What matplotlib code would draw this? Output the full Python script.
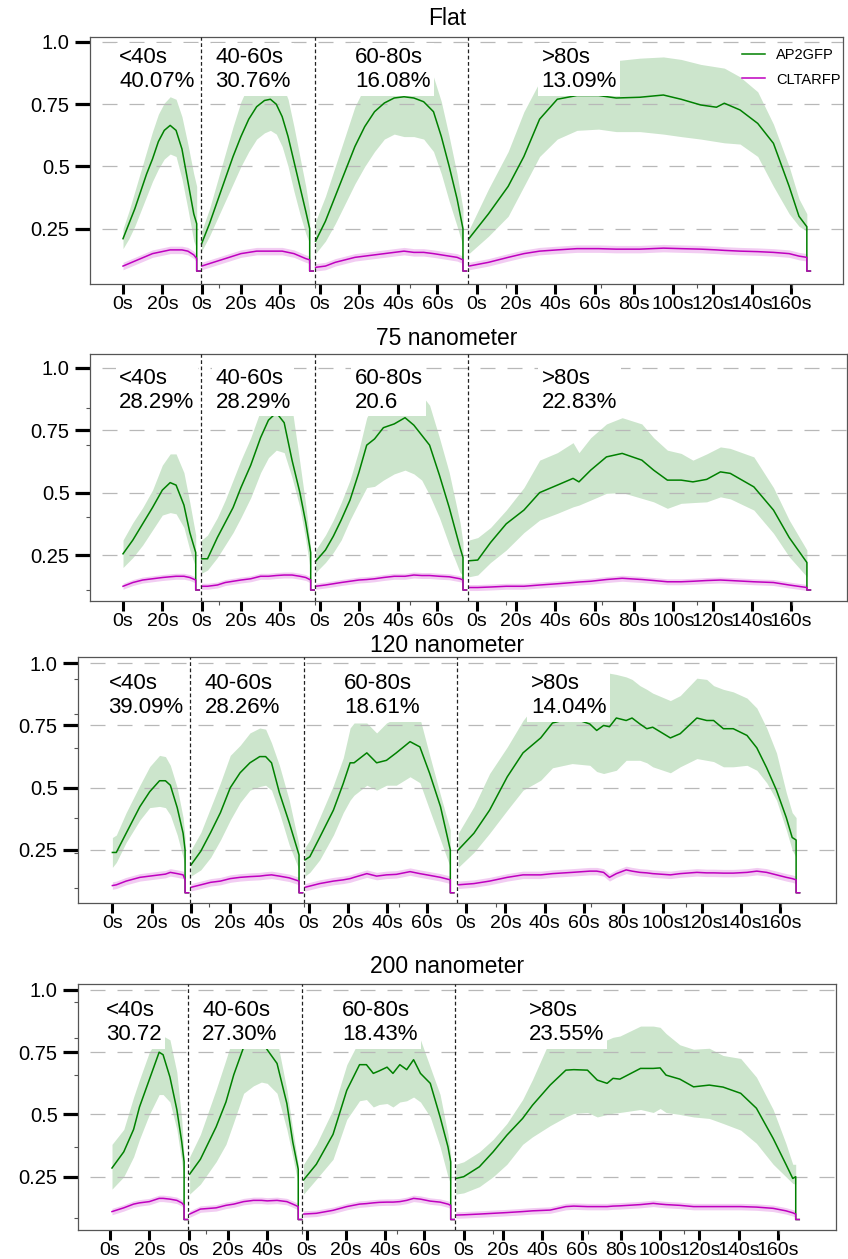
import numpy as np
import matplotlib
matplotlib.use('Agg')
import matplotlib.pyplot as plt
from matplotlib.ticker import FixedLocator

plt.rcParams['font.family'] = ['Liberation Sans', 'DejaVu Sans']

# shared time axis: four duration classes side by side
seg_start = [0, 40, 98, 176]
seg_split = [39.5, 97.7, 175.6]
tick_pos = [0, 20, 40, 60, 80, 100, 120, 140, 160,
            180, 200, 220, 240, 260, 280, 300, 320, 340]
tick_lab = ['0s', '20s', '0s', '20s', '40s', '0s', '20s', '40s', '60s',
            '0s', '20s', '40s', '60s', '80s', '100s', '120s', '140s', '160s']
ytick_pos = [0.25, 0.5, 0.75, 1.0]
ytick_lab = ['0.25', '0.5', '0.75', '1.0']
minor_x = [49, 97.5, 146, 195, 243.5, 292, 340.5]

# ---- Flat
flat_t = [[0, 3, 6, 9, 12, 15, 18, 21, 24, 27, 30, 33, 36, 37.5],
          [0, 4, 8, 12, 16, 20, 24, 28, 32, 35, 38, 41, 44, 47, 50, 53, 55],
          [0, 5, 10, 15, 20, 25, 30, 35, 40, 45, 50, 55, 60, 64, 68, 72, 75],
          [0, 10, 20, 28, 36, 45, 55, 66, 75, 87, 99, 108, 118, 126, 130, 138, 147, 155, 163, 168, 172]]
flat_ap2 = [[0.21, 0.27, 0.33, 0.40, 0.47, 0.53, 0.60, 0.645, 0.665, 0.645, 0.57, 0.44, 0.31, 0.27],
            [0.19, 0.27, 0.36, 0.45, 0.54, 0.62, 0.69, 0.74, 0.765, 0.77, 0.75, 0.70, 0.62, 0.52, 0.42, 0.32, 0.25],
            [0.20, 0.28, 0.38, 0.48, 0.58, 0.66, 0.72, 0.755, 0.775, 0.78, 0.775, 0.76, 0.72, 0.62, 0.50, 0.37, 0.25],
            [0.21, 0.31, 0.42, 0.54, 0.69, 0.77, 0.785, 0.785, 0.775, 0.778, 0.787, 0.77, 0.747, 0.738, 0.754, 0.727, 0.673, 0.593, 0.42, 0.30, 0.258]]
flat_hi = [[0.25, 0.32, 0.40, 0.48, 0.56, 0.64, 0.71, 0.755, 0.78, 0.77, 0.70, 0.59, 0.47, 0.42],
           [0.24, 0.33, 0.44, 0.55, 0.66, 0.76, 0.83, 0.87, 0.89, 0.89, 0.87, 0.83, 0.77, 0.66, 0.54, 0.42, 0.32],
           [0.28, 0.38, 0.50, 0.62, 0.74, 0.82, 0.86, 0.88, 0.89, 0.89, 0.89, 0.88, 0.86, 0.76, 0.62, 0.47, 0.33],
           [0.245, 0.41, 0.56, 0.72, 0.84, 0.90, 0.93, 0.93, 0.925, 0.935, 0.94, 0.93, 0.91, 0.90, 0.895, 0.86, 0.80, 0.67, 0.50, 0.37, 0.31]]
flat_lo = [[0.17, 0.21, 0.26, 0.32, 0.38, 0.44, 0.49, 0.53, 0.55, 0.54, 0.45, 0.33, 0.20, 0.17],
           [0.16, 0.22, 0.29, 0.36, 0.43, 0.50, 0.56, 0.61, 0.635, 0.645, 0.63, 0.58, 0.50, 0.40, 0.31, 0.23, 0.19],
           [0.15, 0.20, 0.27, 0.35, 0.43, 0.50, 0.56, 0.61, 0.63, 0.62, 0.62, 0.61, 0.56, 0.47, 0.36, 0.26, 0.18],
           [0.15, 0.22, 0.30, 0.42, 0.54, 0.61, 0.645, 0.65, 0.64, 0.64, 0.63, 0.62, 0.61, 0.60, 0.595, 0.59, 0.54, 0.42, 0.31, 0.26, 0.24]]
flat_clta = [[0.10, 0.11, 0.12, 0.13, 0.14, 0.15, 0.155, 0.16, 0.165, 0.165, 0.165, 0.16, 0.145, 0.13],
             [0.10, 0.11, 0.12, 0.13, 0.14, 0.15, 0.155, 0.16, 0.16, 0.16, 0.16, 0.16, 0.155, 0.15, 0.14, 0.13, 0.125],
             [0.095, 0.10, 0.115, 0.125, 0.135, 0.14, 0.145, 0.15, 0.155, 0.16, 0.155, 0.155, 0.15, 0.145, 0.14, 0.135, 0.125],
             [0.10, 0.115, 0.135, 0.15, 0.16, 0.165, 0.17, 0.17, 0.168, 0.168, 0.172, 0.17, 0.168, 0.165, 0.163, 0.16, 0.158, 0.155, 0.15, 0.14, 0.135]]

# ---- 75 nanometer
nm75_t = [[0, 5, 10, 15, 20, 24, 27, 31, 34, 37],
          [0, 3, 8, 12, 16, 20, 25, 30, 34, 38, 42, 46, 50, 53, 55.5],
          [0, 5, 9, 13, 17.5, 22, 26, 30, 34.5, 40, 45.5, 50, 54, 58, 63, 68, 73.5, 75],
          [0, 4.5, 11, 19, 28, 36, 45, 53, 56, 62, 70, 78, 88, 94, 101, 108, 114, 121, 128, 133, 145, 155, 163, 172]]
nm75_ap2 = [[0.255, 0.31, 0.375, 0.44, 0.51, 0.54, 0.53, 0.45, 0.34, 0.26],
            [0.235, 0.235, 0.32, 0.38, 0.44, 0.52, 0.61, 0.72, 0.79, 0.82, 0.78, 0.63, 0.50, 0.38, 0.26],
            [0.225, 0.27, 0.325, 0.39, 0.47, 0.58, 0.69, 0.715, 0.76, 0.775, 0.80, 0.77, 0.73, 0.69, 0.57, 0.44, 0.28, 0.24],
            [0.227, 0.23, 0.30, 0.375, 0.43, 0.50, 0.53, 0.557, 0.543, 0.59, 0.643, 0.657, 0.63, 0.59, 0.55, 0.55, 0.543, 0.553, 0.583, 0.577, 0.523, 0.43, 0.32, 0.22]]
nm75_hi = [[0.31, 0.38, 0.44, 0.51, 0.61, 0.655, 0.655, 0.58, 0.46, 0.33],
           [0.31, 0.33, 0.40, 0.47, 0.55, 0.63, 0.72, 0.83, 0.90, 0.93, 0.92, 0.84, 0.62, 0.45, 0.28],
           [0.27, 0.33, 0.39, 0.46, 0.55, 0.67, 0.80, 0.86, 0.90, 0.92, 0.93, 0.92, 0.89, 0.85, 0.72, 0.58, 0.38, 0.30],
           [0.31, 0.32, 0.36, 0.43, 0.52, 0.63, 0.66, 0.70, 0.66, 0.72, 0.775, 0.80, 0.775, 0.72, 0.67, 0.657, 0.63, 0.655, 0.683, 0.677, 0.643, 0.52, 0.39, 0.27]]
nm75_lo = [[0.20, 0.24, 0.29, 0.35, 0.41, 0.42, 0.415, 0.36, 0.27, 0.20],
           [0.177, 0.19, 0.24, 0.29, 0.34, 0.40, 0.48, 0.58, 0.64, 0.67, 0.66, 0.56, 0.44, 0.31, 0.18],
           [0.18, 0.22, 0.26, 0.31, 0.39, 0.46, 0.52, 0.525, 0.55, 0.575, 0.59, 0.575, 0.55, 0.49, 0.40, 0.29, 0.18, 0.17],
           [0.163, 0.17, 0.22, 0.27, 0.34, 0.39, 0.417, 0.443, 0.45, 0.47, 0.497, 0.50, 0.477, 0.463, 0.437, 0.457, 0.46, 0.463, 0.483, 0.475, 0.43, 0.337, 0.243, 0.163]]
nm75_clta = [[0.125, 0.14, 0.15, 0.155, 0.16, 0.163, 0.165, 0.165, 0.16, 0.15],
             [0.125, 0.125, 0.13, 0.14, 0.145, 0.15, 0.155, 0.165, 0.165, 0.168, 0.17, 0.17, 0.165, 0.16, 0.15],
             [0.125, 0.13, 0.135, 0.14, 0.145, 0.15, 0.152, 0.155, 0.16, 0.165, 0.165, 0.17, 0.168, 0.168, 0.165, 0.163, 0.155, 0.15],
             [0.12, 0.12, 0.122, 0.125, 0.125, 0.13, 0.135, 0.14, 0.142, 0.145, 0.152, 0.157, 0.152, 0.148, 0.143, 0.143, 0.145, 0.148, 0.15, 0.148, 0.143, 0.14, 0.13, 0.12]]

# ---- 120 nanometer
nm120_t = [[0, 2, 7, 14, 19, 24, 27, 29.5, 33, 36, 37],
           [0, 5, 10, 15, 20, 25, 30, 35, 38, 41, 45, 50, 55],
           [0, 2.5, 7.5, 14.5, 19.5, 23, 25, 31.5, 36.5, 41.5, 46.5, 53.5, 58.5, 63.5, 69, 74],
           [0, 8, 16, 25, 33, 42, 48, 58, 67, 70.5, 74, 77, 80.5, 85.5, 88.5, 92.5, 96, 99, 108, 113,
            121.5, 126.5, 130, 135, 140, 147, 152, 157, 162, 167, 170, 172]]
nm120_ap2 = [[0.24, 0.24, 0.317, 0.424, 0.484, 0.528, 0.528, 0.51, 0.42, 0.317, 0.25],
             [0.19, 0.245, 0.32, 0.40, 0.50, 0.56, 0.60, 0.625, 0.625, 0.60, 0.48, 0.36, 0.23],
             [0.21, 0.223, 0.30, 0.41, 0.517, 0.60, 0.60, 0.64, 0.60, 0.61, 0.64, 0.685, 0.664, 0.557, 0.424, 0.25],
             [0.25, 0.317, 0.41, 0.544, 0.64, 0.70, 0.76, 0.78, 0.756, 0.73, 0.75, 0.745, 0.78, 0.77, 0.78, 0.756,
              0.737, 0.743, 0.70, 0.717, 0.78, 0.77, 0.77, 0.737, 0.737, 0.71, 0.66, 0.58, 0.49, 0.38, 0.30, 0.29]]
nm120_hi = [[0.30, 0.31, 0.40, 0.51, 0.585, 0.63, 0.625, 0.59, 0.50, 0.38, 0.30],
            [0.25, 0.32, 0.42, 0.52, 0.63, 0.67, 0.72, 0.74, 0.735, 0.68, 0.59, 0.45, 0.27],
            [0.26, 0.29, 0.38, 0.51, 0.62, 0.74, 0.76, 0.76, 0.72, 0.76, 0.78, 0.80, 0.78, 0.63, 0.47, 0.33],
            [0.317, 0.424, 0.557, 0.664, 0.77, 0.86, 0.90, 0.93, 0.94, 0.94, 0.95, 0.96, 0.955, 0.945, 0.935, 0.91,
             0.895, 0.88, 0.85, 0.87, 0.94, 0.935, 0.91, 0.895, 0.885, 0.86, 0.82, 0.74, 0.64, 0.48, 0.40, 0.38]]
nm120_lo = [[0.18, 0.20, 0.28, 0.37, 0.42, 0.425, 0.42, 0.39, 0.31, 0.22, 0.18],
            [0.145, 0.17, 0.22, 0.29, 0.37, 0.44, 0.49, 0.505, 0.51, 0.49, 0.40, 0.27, 0.17],
            [0.145, 0.16, 0.21, 0.31, 0.40, 0.45, 0.47, 0.51, 0.49, 0.51, 0.51, 0.544, 0.52, 0.41, 0.29, 0.18],
            [0.18, 0.24, 0.317, 0.41, 0.49, 0.53, 0.58, 0.597, 0.59, 0.565, 0.557, 0.563, 0.57, 0.61, 0.61, 0.61,
             0.60, 0.584, 0.56, 0.584, 0.617, 0.61, 0.605, 0.584, 0.584, 0.59, 0.57, 0.52, 0.45, 0.33, 0.25, 0.22]]
nm120_clta = [[0.107, 0.11, 0.125, 0.14, 0.145, 0.15, 0.153, 0.16, 0.155, 0.15, 0.13],
              [0.10, 0.11, 0.12, 0.125, 0.135, 0.14, 0.143, 0.145, 0.148, 0.15, 0.145, 0.138, 0.125],
              [0.10, 0.105, 0.115, 0.125, 0.13, 0.135, 0.14, 0.155, 0.145, 0.15, 0.152, 0.163, 0.155, 0.148, 0.14, 0.13],
              [0.11, 0.115, 0.125, 0.14, 0.15, 0.15, 0.155, 0.16, 0.165, 0.165, 0.16, 0.14, 0.155, 0.17, 0.165, 0.16,
               0.158, 0.155, 0.15, 0.155, 0.16, 0.158, 0.158, 0.157, 0.157, 0.16, 0.165, 0.16, 0.15, 0.14, 0.135, 0.13]]

# ---- 200 nanometer
nm200_t = [[1, 7, 12, 15, 20, 25, 27, 30.5, 34, 36.5, 37.7],
           [0.5, 6, 14, 19, 23, 28, 33, 37, 40, 45, 50, 53, 55.8],
           [0.5, 7, 15.5, 22.5, 29, 32.5, 36, 39, 43, 46, 49.5, 53, 56.5, 60, 65, 70, 74, 75.4],
           [0, 4, 12, 19, 26, 34, 39, 48, 56, 60, 67, 72, 77, 80, 83.5, 94, 100.5, 104, 107, 114,
            121, 129, 136, 145, 153, 161.5, 168, 171.5, 173]]
nm200_ap2 = [[0.285, 0.35, 0.44, 0.53, 0.64, 0.75, 0.74, 0.65, 0.52, 0.39, 0.31],
             [0.26, 0.32, 0.45, 0.55, 0.66, 0.77, 0.81, 0.80, 0.76, 0.705, 0.544, 0.39, 0.28],
             [0.237, 0.30, 0.42, 0.597, 0.70, 0.70, 0.665, 0.675, 0.69, 0.665, 0.70, 0.68, 0.72, 0.665, 0.625, 0.49, 0.37, 0.31],
             [0.243, 0.25, 0.29, 0.35, 0.417, 0.484, 0.537, 0.618, 0.678, 0.68, 0.678, 0.638, 0.625, 0.645, 0.642,
              0.685, 0.685, 0.687, 0.658, 0.642, 0.611, 0.618, 0.61, 0.585, 0.525, 0.404, 0.30, 0.243, 0.25]]
nm200_hi = [[0.38, 0.44, 0.57, 0.64, 0.75, 0.815, 0.815, 0.80, 0.67, 0.48, 0.33],
            [0.33, 0.42, 0.60, 0.72, 0.82, 0.90, 0.93, 0.93, 0.90, 0.80, 0.60, 0.44, 0.30],
            [0.30, 0.38, 0.52, 0.70, 0.80, 0.83, 0.82, 0.82, 0.84, 0.83, 0.84, 0.84, 0.85, 0.80, 0.69, 0.58, 0.42, 0.34],
            [0.30, 0.31, 0.35, 0.40, 0.464, 0.56, 0.64, 0.80, 0.80, 0.80, 0.80, 0.80, 0.80, 0.81, 0.815,
             0.855, 0.855, 0.85, 0.825, 0.78, 0.762, 0.766, 0.737, 0.725, 0.65, 0.52, 0.384, 0.30, 0.30]]
nm200_lo = [[0.20, 0.25, 0.33, 0.40, 0.50, 0.58, 0.58, 0.55, 0.44, 0.31, 0.24],
            [0.18, 0.22, 0.31, 0.38, 0.47, 0.585, 0.615, 0.63, 0.625, 0.585, 0.44, 0.33, 0.22],
            [0.18, 0.24, 0.32, 0.48, 0.555, 0.56, 0.53, 0.54, 0.544, 0.53, 0.55, 0.555, 0.57, 0.55, 0.49, 0.37, 0.25, 0.22],
            [0.18, 0.185, 0.21, 0.25, 0.30, 0.38, 0.41, 0.455, 0.49, 0.504, 0.508, 0.49, 0.50, 0.505, 0.508,
             0.52, 0.508, 0.524, 0.508, 0.50, 0.49, 0.484, 0.464, 0.437, 0.384, 0.30, 0.25, 0.223, 0.22]]
nm200_clta = [[0.11, 0.125, 0.14, 0.145, 0.15, 0.163, 0.163, 0.16, 0.155, 0.145, 0.135],
              [0.10, 0.12, 0.125, 0.135, 0.14, 0.15, 0.155, 0.155, 0.153, 0.155, 0.15, 0.14, 0.13],
              [0.10, 0.103, 0.115, 0.13, 0.14, 0.142, 0.145, 0.147, 0.148, 0.148, 0.15, 0.155, 0.163, 0.16, 0.152, 0.148, 0.14, 0.135],
              [0.096, 0.097, 0.10, 0.103, 0.106, 0.11, 0.113, 0.116, 0.13, 0.132, 0.13, 0.13, 0.13, 0.132, 0.133,
               0.138, 0.143, 0.14, 0.138, 0.135, 0.13, 0.13, 0.13, 0.13, 0.128, 0.123, 0.113, 0.105, 0.10]]

titles = ['Flat', '75 nanometer', '120 nanometer', '200 nanometer']
labels = [['<40s\n40.07%', '40-60s\n30.76%', '60-80s\n16.08%', '>80s\n13.09%'],
          ['<40s\n28.29%', '40-60s\n28.29%', '60-80s\n20.6', '>80s\n22.83%'],
          ['<40s\n39.09%', '40-60s\n28.26%', '60-80s\n18.61%', '>80s\n14.04%'],
          ['<40s\n30.72', '40-60s\n27.30%', '60-80s\n18.43%', '>80s\n23.55%']]
label_x = [-2, 47, 118, 213]
label_y = [0.98, 1.0, 0.96, 0.96]
end_val = [0.08, 0.11, 0.078, 0.078]
clta_sd = [0.015, 0.012, 0.015, 0.013]
minor_y = [[], [0.837, 0.69, 0.404, 0.11],
           [0.937, 0.796, 0.658, 0.38, 0.237, 0.099],
           [0.953, 0.806, 0.659, 0.371, 0.084]]

panels = [(flat_t, flat_ap2, flat_lo, flat_hi, flat_clta),
          (nm75_t, nm75_ap2, nm75_lo, nm75_hi, nm75_clta),
          (nm120_t, nm120_ap2, nm120_lo, nm120_hi, nm120_clta),
          (nm200_t, nm200_ap2, nm200_lo, nm200_hi, nm200_clta)]

# axes boxes in pixels: left, right, top, bottom
W, H = 848, 1259
boxes = [(90, 843, 37, 284), (90, 847, 354, 601), (78, 836, 657, 903), (78, 836, 984, 1230)]
xlims = [(-16.8, 366.4), (-16.8, 368.4), (-17.5, 368.3), (-16.3, 369.5)]
ylims = [(0.028, 1.02), (0.066, 1.055), (0.037, 1.025), (0.036, 1.024)]
title_y = [25, 345, 652, 973]

fig = plt.figure(figsize=(W / 100, H / 100), dpi=100)

for p, (tt, ap2, lo, hi, clta) in enumerate(panels):
    l, r, t, b = boxes[p]
    ax = fig.add_axes([l / W, 1 - b / H, (r - l) / W, (b - t) / H])
    for k in range(4):
        x = np.array(tt[k]) + seg_start[k]
        xe = np.r_[x, x[-1], x[-1] + 1.8]
        ax.fill_between(x, lo[k], hi[k], color='green', alpha=0.2, lw=0, zorder=1)
        l1, = ax.plot(xe, np.r_[ap2[k], end_val[p], end_val[p]], color='green', lw=1.1, zorder=2)
        c = np.array(clta[k])
        ax.fill_between(x, c - clta_sd[p], c + clta_sd[p], color='m', alpha=0.2, lw=0, zorder=1)
        l2, = ax.plot(xe, np.r_[c, end_val[p], end_val[p]], color='m', lw=1.1, zorder=2)
        ax.text(label_x[k], label_y[p], labels[p][k], fontsize=16, ha='left', va='top',
                bbox=dict(facecolor='white', edgecolor='none', pad=2.5), zorder=4)
    for xs in seg_split:
        ax.axvline(xs, color='#222222', lw=0.9, ls=(0, (3, 2)), zorder=3)

    ax.set_xlim(*xlims[p])
    ax.set_ylim(*ylims[p])
    ax.set_xticks(tick_pos)
    ax.set_xticklabels(tick_lab)
    ax.set_yticks(ytick_pos)
    ax.set_yticklabels(ytick_lab)
    ax.xaxis.set_minor_locator(FixedLocator(minor_x))
    ax.yaxis.set_minor_locator(FixedLocator(minor_y[p]))
    ax.tick_params(axis='x', which='major', direction='out', length=7.2, width=2.2,
                   pad=1.5, labelsize=14)
    ax.tick_params(axis='y', which='major', direction='out', length=11, width=2.3,
                   pad=3.6, labelsize=14.5)
    ax.tick_params(which='minor', direction='out', length=3, width=0.8, color='#555555')
    ax.set_axisbelow('line')
    ax.grid(axis='y', which='major', color='#b8b8b8', lw=0.9, linestyle=(12, (12, 9.6)))
    for s in ax.spines.values():
        s.set_color('#555555')
        s.set_linewidth(0.9)

    fig.text(447 / W, 1 - title_y[p] / H, titles[p], fontsize=16.5, ha='center', va='baseline')

    if p == 0:
        ax.legend([l1, l2], ['AP2GFP', 'CLTARFP'], loc='upper left',
                  bbox_to_anchor=(0.866, 0.957), borderaxespad=0, borderpad=0,
                  frameon=False, fontsize=10.5, handlelength=1.55,
                  handletextpad=0.8, labelspacing=0.75)

fig.savefig('out.png', dpi=100)
